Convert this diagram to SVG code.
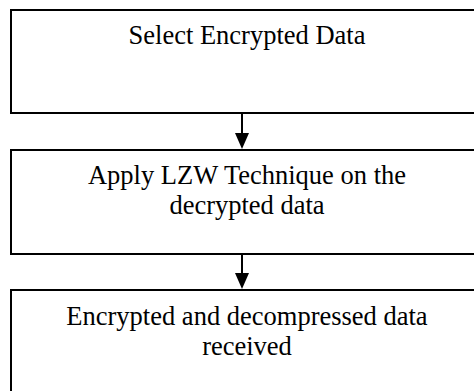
<svg xmlns="http://www.w3.org/2000/svg" width="474" height="391" viewBox="0 0 474 391">
  <style>
    .box { fill: #ffffff; stroke: #000000; stroke-width: 2; }
    .label { font-family: "Liberation Serif", "Times New Roman", serif; font-size: 26.5px; fill: #000000; text-anchor: middle; }
    .link { stroke: #000000; stroke-width: 2; fill: none; }
    .head { fill: #000000; stroke: none; }
  </style>
  <rect width="474" height="391" fill="#ffffff"/>

  <g id="select-data">
    <rect class="box" x="11" y="10" width="472" height="103"/>
    <text class="label" x="247" y="44">Select Encrypted Data</text>
  </g>

  <g id="apply-lzw">
    <rect class="box" x="11" y="150" width="472" height="104"/>
    <text class="label" x="247" y="184">Apply LZW Technique on the</text>
    <text class="label" x="247" y="214">decrypted data</text>
  </g>

  <g id="data-received">
    <rect class="box" x="11" y="290" width="472" height="120"/>
    <text class="label" x="247" y="325">Encrypted and decompressed data</text>
    <text class="label" x="247" y="355">received</text>
  </g>

  <g id="connectors">
    <line class="link" x1="242" y1="113" x2="242" y2="134"/>
    <polygon class="head" points="235,133 249,133 242,149"/>
    <line class="link" x1="242" y1="254" x2="242" y2="274"/>
    <polygon class="head" points="235,273 249,273 242,289"/>
  </g>
</svg>
